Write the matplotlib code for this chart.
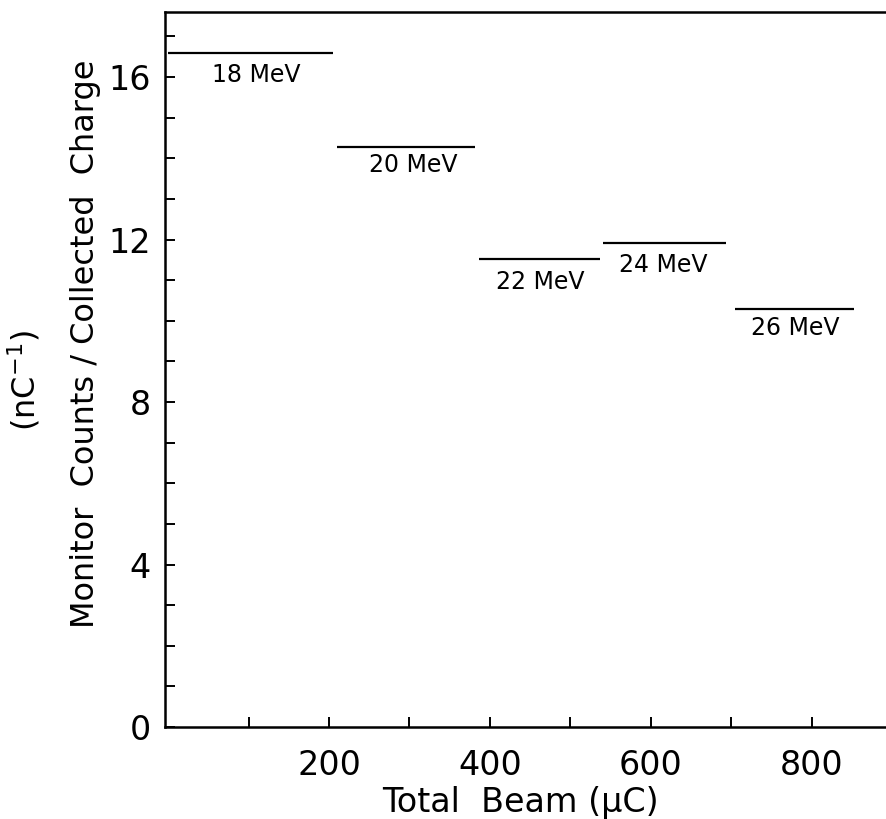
import matplotlib
matplotlib.use('Agg')
import matplotlib.pyplot as plt
from matplotlib.ticker import FixedLocator, MultipleLocator

# beam energy runs: start/end of total beam (uC) and monitor counts / charge (nC^-1)
labels = ['18 MeV', '20 MeV', '22 MeV', '24 MeV', '26 MeV']
x_start = [0, 210, 386, 540, 705]
x_end = [205, 382, 537, 693, 852]
ratio = [16.6, 14.29, 11.53, 11.92, 10.30]

# where each energy label sits
label_x = [109, 305, 463, 615, 779]
label_y = [16.06, 13.84, 10.96, 11.38, 9.83]

xticks = [200, 400, 600, 800]
xminor = [100, 300, 500, 700]
yticks = [0, 4, 8, 12, 16]

plt.rcParams['font.family'] = ['DejaVu Sans']

fig = plt.figure(figsize=(8.86, 8.19), dpi=100)
ax = fig.add_axes([0.186, 0.1123, 0.814, 0.873])

for xs, xe, r in zip(x_start, x_end, ratio):
    ax.plot([xs, xe], [r, r], color='black', lw=1.6, solid_capstyle='butt')

for lab, lx, ly in zip(labels, label_x, label_y):
    ax.text(lx, ly, lab, fontsize=17, ha='center', va='center')

ax.set_xlim(-4, 892)
ax.set_ylim(0, 17.6)
ax.set_xticks(xticks)
ax.set_yticks(yticks)
ax.xaxis.set_minor_locator(FixedLocator(xminor))
ax.yaxis.set_minor_locator(MultipleLocator(1))
ax.tick_params(which='both', direction='in', width=1.4, length=7, labelsize=24)
ax.tick_params(axis='y', which='both', pad=10)
ax.tick_params(axis='x', which='both', pad=16)
ax.spines['right'].set_visible(False)
for s in ['left', 'bottom', 'top']:
    ax.spines[s].set_linewidth(1.8)

fig.text(0.587, 0.02, 'Total  Beam (\u03bcC)', fontsize=24, ha='center', va='center')
fig.text(0.097, 0.58, 'Monitor  Counts / Collected  Charge', fontsize=23,
         rotation=90, ha='center', va='center')
fig.text(0.027, 0.535, '(nC$^{-1}$)', fontsize=23, rotation=90, ha='center', va='center')

fig.savefig('out.png', dpi=100)
